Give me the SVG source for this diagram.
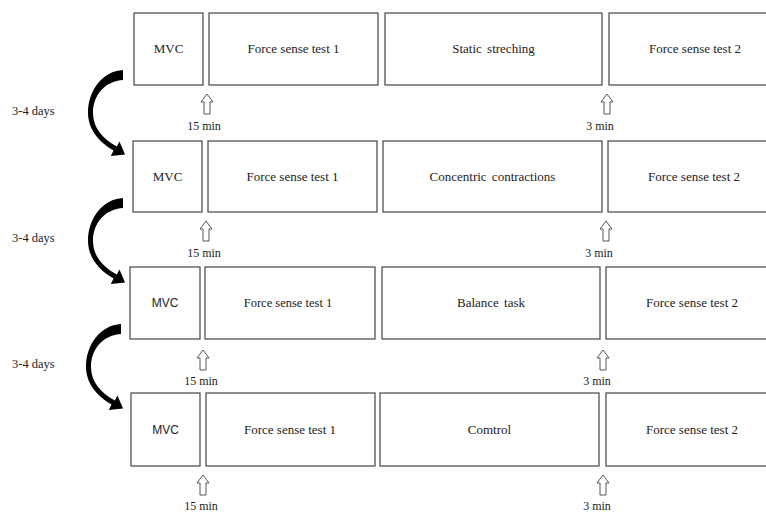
<svg xmlns="http://www.w3.org/2000/svg" xmlns:xlink="http://www.w3.org/1999/xlink" width="766" height="512" viewBox="0 0 766 512">
<style>
.box{fill:#fff;stroke:#444;stroke-width:1.2}
.t{font-family:"Liberation Serif","Times New Roman",serif;font-size:13px;fill:#222;text-anchor:middle}
.s{font-family:"Liberation Sans",Arial,sans-serif;font-size:12px;fill:#222;text-anchor:middle}
.m{font-family:"Liberation Serif","Times New Roman",serif;font-size:12px;fill:#222;text-anchor:middle}
.d{font-family:"Liberation Serif","Times New Roman",serif;font-size:12.5px;fill:#222}
.up{fill:#fff;stroke:#555;stroke-width:1}
.curve{fill:#000}
</style>
<defs>
<path id="curve" d="M123,70 C103,71 88,90 88,113 C88,128 98,142 113.6,150.4 L110.8,156 L125,154.5 L119.5,141.5 L116.8,146.6 C103,139 93,128 93,113 C93,94 106,81 123,80 Z"/>
<path id="up" d="M0,0 L6,8 L3,8 L3,20 L-3,20 L-3,8 L-6,8 Z"/>
</defs>
<rect width="766" height="512" fill="#fff"/>

<g id="row1">
<g id="r1-mvc"><rect class="box" x="134" y="13" width="69" height="72"/><text class="t" x="168.5" y="53">MVC</text></g>
<g id="r1-f1"><rect class="box" x="209" y="13" width="169" height="72"/><text class="t" x="293.5" y="53">Force sense test 1</text></g>
<g id="r1-mid"><rect class="box" x="385" y="13" width="217" height="72"/><text class="t" x="493.5" y="53" word-spacing="2">Static streching</text></g>
<g id="r1-f2"><rect class="box" x="609" y="13" width="173" height="72"/><text class="t" x="695" y="53">Force sense test 2</text></g>
</g>

<g id="row2">
<g id="r2-mvc"><rect class="box" x="133" y="141" width="69" height="71"/><text class="t" x="167.5" y="181">MVC</text></g>
<g id="r2-f1"><rect class="box" x="208" y="141" width="169" height="71"/><text class="t" x="292.5" y="181">Force sense test 1</text></g>
<g id="r2-mid"><rect class="box" x="383" y="141" width="219" height="71"/><text class="t" x="492.5" y="181" word-spacing="2">Concentric contractions</text></g>
<g id="r2-f2"><rect class="box" x="608" y="141" width="174" height="71"/><text class="t" x="694" y="181">Force sense test 2</text></g>
</g>

<g id="row3">
<g id="r3-mvc"><rect class="box" x="130" y="267" width="70" height="72"/><text class="s" x="165" y="307">MVC</text></g>
<g id="r3-f1"><rect class="box" x="205" y="267" width="170" height="72"/><text class="t" x="288" y="307" style="font-size:12.5px">Force sense test 1</text></g>
<g id="r3-mid"><rect class="box" x="382" y="267" width="218" height="72"/><text class="t" x="491" y="307" word-spacing="2">Balance task</text></g>
<g id="r3-f2"><rect class="box" x="606" y="267" width="176" height="72"/><text class="t" x="692" y="307">Force sense test 2</text></g>
</g>

<g id="row4">
<g id="r4-mvc"><rect class="box" x="131" y="393" width="69" height="73"/><text class="s" x="165.5" y="434">MVC</text></g>
<g id="r4-f1"><rect class="box" x="206" y="393" width="169" height="73"/><text class="t" x="290" y="434">Force sense test 1</text></g>
<g id="r4-mid"><rect class="box" x="380" y="393" width="219" height="73"/><text class="t" x="489.5" y="434">Comtrol</text></g>
<g id="r4-f2"><rect class="box" x="606" y="393" width="176" height="73"/><text class="t" x="692" y="434">Force sense test 2</text></g>
</g>

<g id="connectors">
<use xlink:href="#curve" class="curve"/>
<use xlink:href="#curve" class="curve" transform="translate(0,128)"/>
<use xlink:href="#curve" class="curve" transform="translate(-2,254)"/>
<use xlink:href="#up" class="up" transform="translate(207,94)"/>
<use xlink:href="#up" class="up" transform="translate(607,94)"/>
<use xlink:href="#up" class="up" transform="translate(206,221)"/>
<use xlink:href="#up" class="up" transform="translate(606,221)"/>
<use xlink:href="#up" class="up" transform="translate(203,350)"/>
<use xlink:href="#up" class="up" transform="translate(603,350)"/>
<use xlink:href="#up" class="up" transform="translate(203,475)"/>
<use xlink:href="#up" class="up" transform="translate(603,475)"/>
</g>

<g id="labels">
<text class="d" x="12" y="115">3-4 days</text>
<text class="d" x="12" y="242">3-4 days</text>
<text class="d" x="12" y="368">3-4 days</text>
<text class="m" x="204" y="130">15 min</text>
<text class="m" x="600" y="130">3 min</text>
<text class="m" x="204" y="257">15 min</text>
<text class="m" x="599" y="257">3 min</text>
<text class="m" x="201" y="385">15 min</text>
<text class="m" x="597" y="385">3 min</text>
<text class="m" x="201" y="510">15 min</text>
<text class="m" x="597" y="510">3 min</text>
</g>
</svg>
